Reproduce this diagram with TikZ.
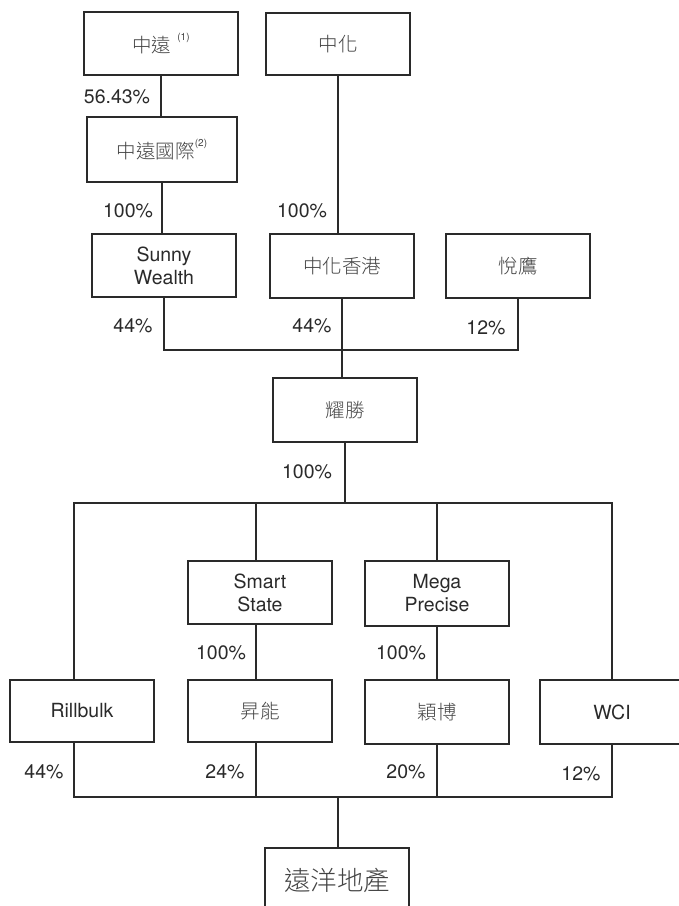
\documentclass[tikz,border=0pt]{standalone}
\usepackage{fontspec}
\setmainfont{TeX Gyre Heros}
\IfFontExistsTF{Noto Sans CJK TC Light}
  {\newfontfamily\cjk{Noto Sans CJK TC Light}}
  {\newfontfamily\cjk{Noto Sans CJK TC}}
\definecolor{ink}{HTML}{2A2A2A}
\definecolor{cjkink}{HTML}{444444}
\newcommand\supnote[1]{\raisebox{0.6em}{\fontsize{10}{10}\selectfont\rmfamily (#1)}}
\begin{document}
\begin{tikzpicture}[x=1pt,y=-1pt,
  box/.style={draw=ink, line width=1.1pt, fill=white, inner sep=0pt, align=center,
    text=ink, font=\fontsize{19.5}{23}\selectfont, minimum width=144pt, minimum height=64pt},
  cjkbox/.style={box, font=\fontsize{19.5}{23}\selectfont\cjk, text=cjkink},
  pct/.style={text=ink, inner sep=0pt, font=\fontsize{19.5}{23}\selectfont},
  link/.style={draw=ink, line width=1.1pt}]
\useasboundingbox (0,0) rectangle (679,906);

% boxes
\node[cjkbox, minimum width=154pt, minimum height=63pt] (zy) at (161,43.5) {中遠\hspace{6pt}\supnote{1}};
\node[cjkbox, minimum height=62pt] (zh) at (338,44) {中化};
\node[cjkbox, minimum width=150pt, minimum height=65pt] (zyi) at (162,149.5) {中遠國際\supnote{2}};
\node[box, minimum height=63pt] (sw) at (164,265.5) {Sunny\\Wealth};
\node[cjkbox] (zhhk) at (342,266) {中化香港};
\node[cjkbox] (yy) at (518,266) {悅鷹};
\node[cjkbox] (ys) at (345,410) {耀勝};
\node[box, minimum height=63pt] (ss) at (260,592.5) {Smart\\State};
\node[box, minimum height=65pt] (mp) at (437,593.5) {Mega\\Precise};
\node[box, minimum height=62pt] (rb) at (82,711) {Rillbulk};
\node[cjkbox, minimum height=62pt] (sn) at (260,711) {昇能};
\node[cjkbox] (yb) at (437,712) {穎博};
\node[box] (wci) at (612,712) {WCI};
\node[cjkbox, font=\fontsize{26.5}{30}\selectfont\cjk] (yydc) at (337,880) {遠洋地產};

% junction coordinates
\coordinate (j1) at (342,350);
\coordinate (j2) at (344,503);
\coordinate (j3) at (338,797);
\coordinate (rbt) at ([xshift=-8pt]rb.north);
\coordinate (rbb) at ([xshift=-8pt]rb.south);
\coordinate (sst) at ([xshift=-4pt]ss.north);
\coordinate (ssb) at ([xshift=-4pt]ss.south);
\coordinate (snb) at ([xshift=-4pt]sn.south);

% connectors
\draw[link] (zy.south) -- (zy.south |- zyi.north);
\draw[link] (zyi.south) -- (zyi.south |- sw.north);
\draw[link] (zh.south) -- (zh.south |- zhhk.north);
\draw[link] (sw.south) |- (j1) -| (yy.south);
\draw[link] (zhhk.south) -- (zhhk.south |- ys.north);
\draw[link] (ys.south) -- (ys.south |- j2);
\draw[link] (rbt) |- (wci.north |- j2) -- (wci.north);
\draw[link] (sst) -- (sst |- j2);
\draw[link] (mp.north) -- (mp.north |- j2);
\draw[link] (ssb) -- (ssb |- sn.north);
\draw[link] (mp.south) -- (mp.south |- yb.north);
\draw[link] (rbb) |- (wci.south |- j3) -- (wci.south);
\draw[link] (snb) -- (snb |- j3);
\draw[link] (yb.south) -- (yb.south |- j3);
\draw[link] (j3) -- (j3 |- yydc.north);

% percentages
\node[pct] (p1) at (117,97) {56.43\%};
\node[pct] (p2) at (128,211) {100\%};
\node[pct] (p3) at (302,211) {100\%};
\node[pct] (p4) at (133,326) {44\%};
\node[pct] (p5) at (312,326) {44\%};
\node[pct] (p6) at (486,328) {12\%};
\node[pct] (p7) at (307,472) {100\%};
\node[pct] (p8) at (221,653) {100\%};
\node[pct] (p9) at (401,653) {100\%};
\node[pct] (p10) at (44,772) {44\%};
\node[pct] (p11) at (225,772) {24\%};
\node[pct] (p12) at (406,772) {20\%};
\node[pct] (p13) at (581,774) {12\%};
\end{tikzpicture}
\end{document}
